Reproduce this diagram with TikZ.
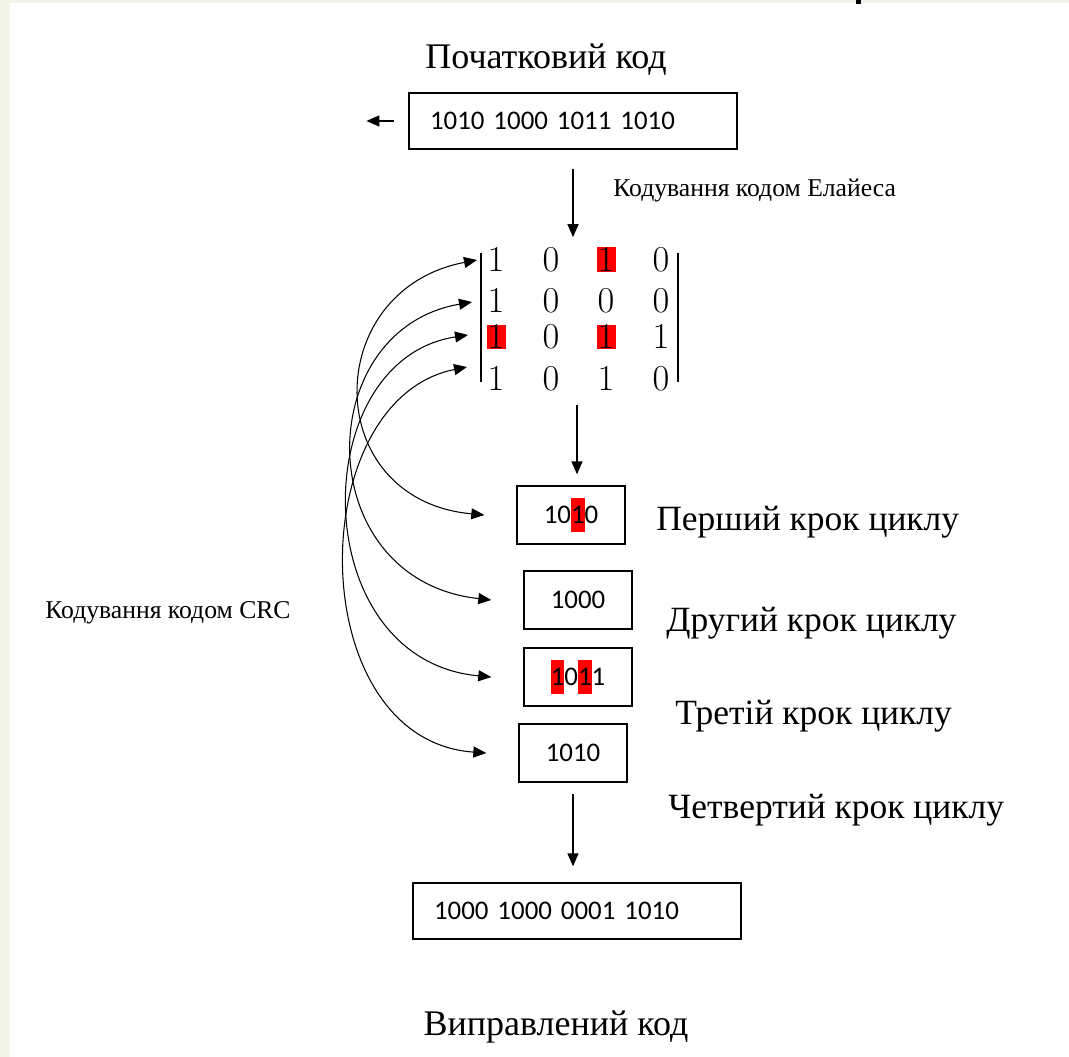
\documentclass[tikz,border=0pt]{standalone}
\usepackage[no-math]{fontspec}
\setmainfont{Liberation Serif}
\newfontfamily\bitfont{Carlito}
\usepackage{tikz}
\usetikzlibrary{arrows.meta}
\usepackage{xcolor}
\definecolor{bgstrip}{HTML}{F3F5E8}

\newcommand{\redbit}[1]{{\setlength{\fboxsep}{0pt}\colorbox{red}{\rule[-0.3em]{0pt}{1.25em}#1}}}

\tikzset{
  codebox/.style={draw, line width=0.8pt, inner sep=0pt, minimum width=6.56cm,
    minimum height=1.12cm, text width=5.72cm, align=left,
    font=\bitfont\fontsize{15.3}{18}\selectfont},
  stepbox/.style={draw, line width=0.8pt, inner sep=0pt, minimum width=2.16cm,
    minimum height=1.16cm, font=\bitfont\fontsize{15.3}{18}\selectfont},
  bit/.style={inner sep=0pt, minimum width=0.38cm, minimum height=0.5cm,
    font=\fontsize{21.5}{24}\selectfont},
  hot/.style={fill=red},
  title/.style={inner sep=0pt, font=\fontsize{20.5}{24}\selectfont},
  steplabel/.style={anchor=west, inner sep=0pt, font=\fontsize{20.2}{24}\selectfont},
  note/.style={anchor=west, inner sep=0pt, font=\fontsize{14.6}{17}\selectfont},
  loop/.style={<->, line width=0.6pt}
}

\begin{document}
\begin{tikzpicture}[x=0.02cm, y=-0.02cm, >={Triangle[length=0.26cm,width=0.22cm]}]
    \useasboundingbox (0,0) rectangle (1069,1057);
    % Tlo
    \fill[white] (0,0) rectangle (1069,1057);
    \fill[bgstrip] (0,0) rectangle (10,1057);
    \fill[bgstrip] (0,0) rectangle (1069,3);
    \fill[black] (856,0) rectangle (861,4);

    % Pochatkovyi kod
    \node[title] (t-src) at (546,60) {Початковий код};
    \node[codebox] (src) at (573,121) {1010 1000 1011 1010};
    \draw[<-, line width=0.8pt] ([xshift=-0.84cm]src.west) -- ([xshift=-0.28cm]src.west);

    % Matrytsia
    \foreach \r/\y/\row in {1/260/{1/,0/,1/hot,0/}, 2/301/{1/,0/,0/,0/},
                            3/337/{1/hot,0/,1/hot,1/}, 4/379/{1/,0/,1/,0/}}
      \foreach \d/\s [count=\c] in \row
        \node[bit, \s] (m-\r-\c) at ({441+55*\c},\y) {$\d$};
    \draw[line width=1.6pt] (481,253) -- (481,382);
    \draw[line width=1.6pt] (678,253) -- (678,382);

    \draw[->, line width=0.8pt, shorten >=0.2cm] ([yshift=-0.38cm]src.south) -- (src.south |- m-1-3.north);
    \node[note] (n-el) at (613,190) {Кодування кодом Елайеса};

    % Kroky tsyklu
    \node[stepbox] (s1) at (571,515) {10\redbit{1}0};
    \node[stepbox] (s2) at (578,600) {1000};
    \node[stepbox] (s3) at (578,677) {\redbit{1}0\redbit{1}1};
    \node[stepbox] (s4) at (573,753) {1010};
    \node[steplabel] (l1) at (656,522) {Перший крок циклу};
    \node[steplabel] (l2) at (666,623) {Другий крок циклу};
    \node[steplabel] (l3) at (675,716) {Третій крок циклу};
    \node[steplabel] (l4) at (668,810) {Четвертий крок циклу};

    \coordinate (a2) at (577,405);
    \draw[->, line width=0.8pt, shorten >=0.22cm] (a2) -- (a2 |- s1.north);

    % CRC
    \coordinate (r1) at (477,260);
    \coordinate (r2) at (472,302);
    \coordinate (r3) at (468,335);
    \coordinate (r4) at (467,367);
    \draw[loop] (r1) .. controls (320,290) and (320,500) .. ([xshift=-0.64cm]s1.west);
    \draw[loop] (r2) .. controls (310,330) and (310,580) .. ([xshift=-0.64cm]s2.west);
    \draw[loop] (r3) .. controls (305,360) and (305,660) .. ([xshift=-0.64cm]s3.west);
    \draw[loop] (r4) .. controls (302,400) and (302,740) .. ([xshift=-0.64cm]s4.west);
    \node[note] (n-crc) at (45,613) {Кодування кодом CRC};

    % Vypravlenyi kod
    \node[codebox] (dst) at (577,911) {1000 1000 0001 1010};
    \draw[->, line width=0.8pt, shorten <=0.22cm, shorten >=0.32cm] (s4.south) -- (s4.south |- dst.north);
    \node[title] (t-dst) at (556,1027) {Виправлений код};
\end{tikzpicture}
\end{document}
